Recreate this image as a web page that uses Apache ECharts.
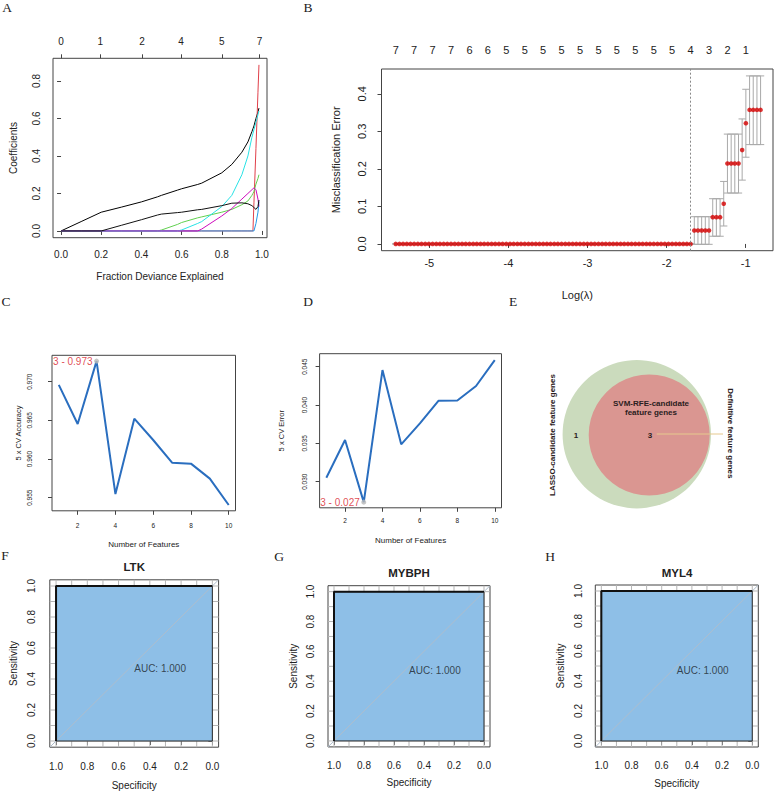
<!DOCTYPE html>
<html><head><meta charset="utf-8">
<script src="https://cdn.jsdelivr.net/npm/echarts@6/dist/echarts.min.js"></script>
<style>html,body{margin:0;padding:0;background:#fff}#c{width:776px;height:791px}</style>
</head><body><div id="c"></div>
<script>
// ---------- Panel A: LASSO coefficient paths vs fraction deviance explained ----------
const devFrac   = [0, 0.1, 0.2, 0.3, 0.4, 0.48, 0.5, 0.58, 0.6, 0.68, 0.7, 0.8, 0.85, 0.9, 0.93, 0.95, 0.955, 0.96, 0.97, 0.98, 0.985];
const coefVar1  = [0, 0.05, 0.1, 0.127, 0.155, 0.182, 0.19, 0.218, 0.225, 0.248, 0.255, 0.31, 0.355, 0.42, 0.475, 0.53, 0.545, 0.56, 0.6, 0.635, 0.655];
const coefVar2  = [0, 0, 0, 0, 0, 0, 0, 0, 0, 0, 0, 0, 0, 0, 0, 0, 0, 0.15, 0.44, 0.74, 0.886];
const coefVar3  = [0, 0, 0, 0, 0, 0, 0.005, 0.035, 0.045, 0.07, 0.075, 0.1, 0.115, 0.14, 0.16, 0.19, 0.2, 0.21, 0.25, 0.28, 0.3];
const coefVar4  = [0, 0, 0, 0, 0, 0, 0, 0, 0, 0, 0, 0, 0, 0, 0, 0, 0, 0, 0.04, 0.1, 0.155];
const coefVar5  = [0, 0, 0, 0, 0, 0, 0, 0, 0.005, 0.04, 0.05, 0.13, 0.19, 0.3, 0.4, 0.5, 0.52, 0.54, 0.58, 0.62, 0.64];
const coefVar6  = [0, 0, 0, 0, 0, 0, 0, 0, 0, 0, 0.01, 0.08, 0.12, 0.17, 0.2, 0.22, 0.225, 0.23, 0.22, 0.17, 0.13];
const coefVar7  = [0, 0, 0, 0.03, 0.06, 0.085, 0.09, 0.098, 0.1, 0.113, 0.115, 0.135, 0.148, 0.15, 0.145, 0.135, 0.13, 0.125, 0.115, 0.13, 0.165];
const dfTopPos    = [0, 0.195, 0.403, 0.597, 0.8, 0.988];
const dfTopLabels = ['0', '1', '2', '4', '5', '7'];

// ---------- Panel B: cross-validated misclassification error ----------
const logLambda = [
 -5.425,-5.378,-5.332,-5.285,-5.239,-5.192,-5.145,-5.099,-5.052,-5.006,
 -4.959,-4.912,-4.866,-4.819,-4.773,-4.726,-4.679,-4.633,-4.586,-4.540,
 -4.493,-4.446,-4.400,-4.353,-4.307,-4.260,-4.213,-4.167,-4.120,-4.074,
 -4.027,-3.980,-3.934,-3.887,-3.841,-3.794,-3.747,-3.701,-3.654,-3.608,
 -3.561,-3.514,-3.468,-3.421,-3.375,-3.328,-3.281,-3.235,-3.188,-3.142,
 -3.095,-3.048,-3.002,-2.955,-2.909,-2.862,-2.815,-2.769,-2.722,-2.676,
 -2.629,-2.582,-2.536,-2.489,-2.443,-2.396,-2.349,-2.303,-2.256,-2.210,
 -2.163,-2.116,-2.070,-2.023,-1.977,-1.930,-1.883,-1.837,-1.790,-1.744,
 -1.697,-1.650,-1.604,-1.557,-1.511,-1.464,-1.417,-1.371,-1.324,-1.278,
 -1.231,-1.184,-1.138,-1.091,-1.045,-0.998,-0.951,-0.905,-0.858,-0.812];
const cvError = [
 0,0,0,0,0,0,0,0,0,0,0,0,0,0,0,0,0,0,0,0,
 0,0,0,0,0,0,0,0,0,0,0,0,0,0,0,0,0,0,0,0,
 0,0,0,0,0,0,0,0,0,0,0,0,0,0,0,0,0,0,0,0,
 0,0,0,0,0,0,0,0,0,0,0,0,0,0,0,0,0,0,0,0,
 0,0.0357,0.0357,0.0357,0.0357,0.0357,0.0714,0.0714,0.0714,0.1071,
 0.2143,0.2143,0.2143,0.2143,0.25,0.3214,0.3571,0.3571,0.3571,0.3571];
const cvUpper = [
 0,0,0,0,0,0,0,0,0,0,0,0,0,0,0,0,0,0,0,0,
 0,0,0,0,0,0,0,0,0,0,0,0,0,0,0,0,0,0,0,0,
 0,0,0,0,0,0,0,0,0,0,0,0,0,0,0,0,0,0,0,0,
 0,0,0,0,0,0,0,0,0,0,0,0,0,0,0,0,0,0,0,0,
 0,0.0726,0.0726,0.0726,0.0726,0.0726,0.1205,0.1205,0.1205,0.1665,
 0.2926,0.2926,0.2926,0.2926,0.333,0.412,0.4476,0.4476,0.4476,0.4476];
const cvLower = [
 0,0,0,0,0,0,0,0,0,0,0,0,0,0,0,0,0,0,0,0,
 0,0,0,0,0,0,0,0,0,0,0,0,0,0,0,0,0,0,0,0,
 0,0,0,0,0,0,0,0,0,0,0,0,0,0,0,0,0,0,0,0,
 0,0,0,0,0,0,0,0,0,0,0,0,0,0,0,0,0,0,0,0,
 0,-0.001,-0.001,-0.001,-0.001,-0.001,0.0205,0.0205,0.0205,0.0478,
 0.1356,0.1356,0.1356,0.1356,0.17,0.231,0.2646,0.2646,0.2646,0.2646];
const nzLabels = [7,7,7,7,6,6,5,5,5,5,5,5,5,5,5,5,4,3,2,1];
const lambdaMinIdx = 80;

// ---------- Panels C / D: SVM-RFE ----------
const nFeatures  = [1, 2, 3, 4, 5, 6, 7, 8, 9, 10];
const cvAccuracy = [0.9696, 0.96453, 0.97267, 0.95547, 0.96522, 0.96246, 0.95953, 0.9594, 0.95746, 0.95405];
const cvErrorRfe = [0.03052, 0.03543, 0.02733, 0.04457, 0.03487, 0.0376, 0.04057, 0.0406, 0.04248, 0.04587];

// ---------- Panel E: Venn ----------
const vennSetNames     = ['LASSO-candidate feature genes', 'SVM-RFE-candidate feature genes'];
const vennRegionCounts = [1, 3];
const vennOverlapName  = 'Definitive feature genes';

// ---------- Panels F-H: ROC ----------
const rocGenes       = ['LTK', 'MYBPH', 'MYL4'];
const rocSpecificity = [1, 1, 0];
const rocSensitivity = [0, 1, 1];
const rocAuc         = [1.000, 1.000, 1.000];
const rocGridVals    = [0, 0.1, 0.2, 0.3, 0.4, 0.5, 0.6, 0.7, 0.8, 0.9, 1.0];

// ================= rendering =================
const FONT = 'Liberation Sans, Arial, sans-serif';
const SERIF = 'Liberation Serif, Times New Roman, serif';
const chart = echarts.init(document.getElementById('c'), null, {renderer: 'svg', width: 776, height: 791});

function fixed(n) { return v => Number(v).toFixed(n); }
function lookup(pos, labels) {
  return v => { let bi = -1, bd = 1e9; pos.forEach((p, i) => { const d = Math.abs(p - v); if (d < bd) { bd = d; bi = i; } }); return bd < 1e-6 ? String(labels[bi]) : ''; };
}
function ax(o) {
  return {
    type: 'value', gridIndex: o.grid, position: o.position, min: o.min, max: o.max, inverse: !!o.inverse,
    axisLine: {show: false}, splitLine: {show: false}, splitArea: {show: false},
    axisTick: {show: o.tickShow !== false, inside: false, length: 4, customValues: o.ticks, lineStyle: {color: '#444', width: 1}},
    axisLabel: {show: true, customValues: o.ticks, formatter: o.fmt, fontSize: o.fs, color: '#222', fontFamily: FONT, margin: o.margin, rotate: o.rotate || 0},
    name: o.name || '', nameLocation: 'middle', nameGap: o.nameGap || 0,
    nameTextStyle: {fontSize: o.nfs || 10, color: '#222', fontFamily: FONT}
  };
}
const gridBase = {show: true, borderColor: '#444', borderWidth: 1, backgroundColor: 'transparent', containLabel: false, outerBoundsMode: 'none'};
const grids = [
  {left: 53, top: 58.3, width: 214, height: 179.4},      // A
  {left: 381.5, top: 69, width: 391.5, height: 181.7},   // B
  {left: 52, top: 355.3, width: 183.5, height: 155.5},   // C
  {left: 319.6, top: 353.7, width: 181.9, height: 154.1},// D
  {left: 49.8, top: 579.8, width: 168.8, height: 167.4}, // F
  {left: 328, top: 585.7, width: 162, height: 161.2},    // G
  {left: 595.3, top: 585, width: 163, height: 162}       // H
].map(g => Object.assign({}, gridBase, g));

const ROC_MIN = -0.04, ROC_MAX = 1.04;
const rocTicks = [0, 0.2, 0.4, 0.6, 0.8, 1.0];
const topNzPos = nzLabels.map((_, k) => logLambda[k * 5]);

const xAxes = [
  ax({grid: 0, min: -0.04, max: 1.025, ticks: [0, 0.2, 0.4, 0.6, 0.8, 1.0], fmt: fixed(1), fs: 10, margin: 12, name: 'Fraction Deviance Explained', nameGap: 34, nfs: 10}),
  ax({grid: 0, position: 'top', min: -0.04, max: 1.025, ticks: dfTopPos, fmt: lookup(dfTopPos, dfTopLabels), fs: 10, margin: 11.5}),
  ax({grid: 1, min: -5.605, max: -0.655, ticks: [-5, -4, -3, -2, -1], fmt: v => String(Math.round(v)), fs: 11, margin: 7, name: 'Log(\u03bb)', nameGap: 39, nfs: 11}),
  ax({grid: 1, position: 'top', min: -5.605, max: -0.655, ticks: topNzPos, tickShow: false, fmt: lookup(topNzPos, nzLabels), fs: 11, margin: 14}),
  ax({grid: 2, min: 0.64, max: 10.36, ticks: [2, 4, 6, 8, 10], fmt: v => String(Math.round(v)), fs: 6.5, margin: 11.5, name: 'Number of Features', nameGap: 30, nfs: 8}),
  ax({grid: 3, min: 0.64, max: 10.36, ticks: [2, 4, 6, 8, 10], fmt: v => String(Math.round(v)), fs: 6.5, margin: 9.3, name: 'Number of Features', nameGap: 29, nfs: 8}),
  ax({grid: 4, min: ROC_MIN, max: ROC_MAX, inverse: true, ticks: rocTicks, fmt: fixed(1), fs: 10, margin: 14.5, name: 'Specificity', nameGap: 32.8, nfs: 10}),
  ax({grid: 5, min: ROC_MIN, max: ROC_MAX, inverse: true, ticks: rocTicks, fmt: fixed(1), fs: 10, margin: 13.5, name: 'Specificity', nameGap: 31, nfs: 10}),
  ax({grid: 6, min: ROC_MIN, max: ROC_MAX, inverse: true, ticks: rocTicks, fmt: fixed(1), fs: 10, margin: 13.5, name: 'Specificity', nameGap: 31, nfs: 10})
];
const yAxes = [
  ax({grid: 0, min: -0.036, max: 0.921, ticks: [0, 0.2, 0.4, 0.6, 0.8], fmt: fixed(1), fs: 10, margin: 12, rotate: 90, name: 'Coefficients', nameGap: 34.5, nfs: 10}),
  ax({grid: 1, min: -0.018, max: 0.466, ticks: [0, 0.1, 0.2, 0.3, 0.4], fmt: fixed(1), fs: 11, margin: 14, rotate: 90, name: 'Misclassification Error', nameGap: 40, nfs: 11}),
  ax({grid: 2, min: 0.9533, max: 0.97342, ticks: [0.955, 0.96, 0.965, 0.97], fmt: fixed(3), fs: 6.5, margin: 19, rotate: 90, name: '5 x CV Accuracy', nameGap: 29.7, nfs: 7.5}),
  ax({grid: 3, min: 0.02659, max: 0.0467, ticks: [0.03, 0.035, 0.04, 0.045], fmt: fixed(3), fs: 6.5, margin: 11.3, rotate: 90, name: '5 x CV Error', nameGap: 34, nfs: 7.5}),
  ax({grid: 4, min: ROC_MIN, max: ROC_MAX, ticks: rocTicks, fmt: fixed(1), fs: 10, margin: 13, rotate: 90, name: 'Sensitivity', nameGap: 31.5, nfs: 10}),
  ax({grid: 5, min: ROC_MIN, max: ROC_MAX, ticks: rocTicks, fmt: fixed(1), fs: 10, margin: 13, rotate: 90, name: 'Sensitivity', nameGap: 29.7, nfs: 10}),
  ax({grid: 6, min: ROC_MIN, max: ROC_MAX, ticks: rocTicks, fmt: fixed(1), fs: 10, margin: 12.3, rotate: 90, name: 'Sensitivity', nameGap: 29.6, nfs: 10})
];

const series = [];
// A paths
const coefPaths = [coefVar1, coefVar2, coefVar3, coefVar4, coefVar5, coefVar6, coefVar7];
const pathColors = ['#000000', '#e0404a', '#61D04F', '#2297E6', '#28E2E5', '#CD0BBC', '#111111'];
coefPaths.forEach((c, k) => series.push({
  type: 'line', xAxisIndex: 0, yAxisIndex: 0, showSymbol: false, symbol: 'none', smooth: false,
  data: devFrac.map((d, i) => [d, c[i]]), lineStyle: {color: pathColors[k], width: 1}, z: 2 + k
}));

// B error bars
const capHalf = 0.046;
series.push({
  type: 'custom', xAxisIndex: 2, yAxisIndex: 1, z: 2,
  data: logLambda.map((x, i) => [x, cvLower[i], cvUpper[i]]),
  encode: {x: 0, y: [1, 2]},
  renderItem: function (params, api) {
    const x = api.value(0), lo = api.value(1), up = api.value(2);
    const a = api.coord([x, up]), b = api.coord([x, lo]);
    const hw = api.size([capHalf, 0])[0];
    const st = {stroke: '#a9a9a9', lineWidth: 1};
    return {type: 'group', children: [
      {type: 'line', shape: {x1: a[0], y1: a[1], x2: b[0], y2: b[1]}, style: st},
      {type: 'line', shape: {x1: a[0] - hw, y1: a[1], x2: a[0] + hw, y2: a[1]}, style: st},
      {type: 'line', shape: {x1: b[0] - hw, y1: b[1], x2: b[0] + hw, y2: b[1]}, style: st}
    ]};
  }
});
series.push({
  type: 'scatter', xAxisIndex: 2, yAxisIndex: 1, z: 3, symbol: 'circle', symbolSize: 4.6,
  data: logLambda.map((x, i) => [x, cvError[i]]), itemStyle: {color: '#d40000'},
  markLine: {silent: true, symbol: 'none', label: {show: false}, lineStyle: {type: [2, 2], color: '#888', width: 1},
    data: [{xAxis: logLambda[lambdaMinIdx]}]}
});

// C / D
function rfePanel(xi, yi, vals, best, labelColor) {
  series.push({type: 'line', xAxisIndex: xi, yAxisIndex: yi, showSymbol: false, symbol: 'none',
    data: nFeatures.map((n, i) => [n, vals[i]]), lineStyle: {color: '#2a6ebf', width: 2}, z: 2});
  series.push({type: 'scatter', xAxisIndex: xi, yAxisIndex: yi, symbolSize: 5, z: 3,
    itemStyle: {color: '#b8b8b8'},
    data: [[nFeatures[best], vals[best]]],
    label: {show: true, position: 'left', distance: 1.5, color: labelColor, fontSize: 10, fontFamily: FONT,
      formatter: p => p.value[0] + ' - ' + p.value[1].toFixed(3)}});
}
const bestAcc = cvAccuracy.indexOf(Math.max(...cvAccuracy));
const bestErr = cvErrorRfe.indexOf(Math.min(...cvErrorRfe));
rfePanel(4, 2, cvAccuracy, bestAcc, '#d8202a');
rfePanel(5, 3, cvErrorRfe, bestErr, '#d8202a');

// E Venn
series.push({
  type: 'custom', coordinateSystem: 'none', z: 2,
  data: vennRegionCounts.map((c, i) => [i, c]),
  renderItem: function (params, api) {
    const i = params.dataIndex, c = api.value(1);
    const tf = {fontSize: 8, fontWeight: 'bold', fontFamily: FONT, fill: '#2a2020', align: 'center', verticalAlign: 'middle'};
    if (i === 0) {
      return {type: 'group', children: [
        {type: 'circle', shape: {cx: 636.8, cy: 434.2, r: 74.2}, style: {fill: '#cbdbbd'}},
        {type: 'text', style: Object.assign({text: String(c), x: 576, y: 435}, tf)}
      ]};
    }
    return {type: 'group', children: [
      {type: 'circle', shape: {cx: 649.2, cy: 435, r: 60.5}, style: {fill: '#da9691'}},
      {type: 'line', shape: {x1: 656.7, y1: 434, x2: 723, y2: 434}, style: {stroke: '#e6c98e', lineWidth: 1}},
      {type: 'text', style: Object.assign({text: String(c), x: 650, y: 435}, tf)}
    ]};
  }
});

// F-H ROC
rocGenes.forEach((g, k) => {
  const xi = 6 + k, yi = 4 + k;
  series.push({type: 'custom', xAxisIndex: xi, yAxisIndex: yi, z: 1, data: rocGridVals.map(v => [v, v]), encode: {x: 0, y: 1},
    renderItem: function (params, api) {
      const v = api.value(0);
      const a = api.coord([v, ROC_MIN]), b = api.coord([v, ROC_MAX]);
      const c = api.coord([ROC_MAX, v]), d = api.coord([ROC_MIN, v]);
      const st = {stroke: '#b5b5b5', lineWidth: 1};
      return {type: 'group', children: [
        {type: 'line', shape: {x1: a[0], y1: a[1], x2: b[0], y2: b[1]}, style: st},
        {type: 'line', shape: {x1: c[0], y1: c[1], x2: d[0], y2: d[1]}, style: st}
      ]};
    }});
  series.push({type: 'custom', xAxisIndex: xi, yAxisIndex: yi, z: 2,
    data: rocSpecificity.map((s, i) => [s, rocSensitivity[i]]), encode: {x: 0, y: 1},
    renderItem: function (params, api) {
      if (params.dataIndex !== 0) return null;
      const pts = rocSpecificity.map((s, i) => api.coord([s, rocSensitivity[i]]));
      pts.push(api.coord([rocSpecificity[rocSpecificity.length - 1], 0]));
      return {type: 'polygon', shape: {points: pts}, style: {fill: '#8ebfe7', stroke: '#2b2b2b', lineWidth: 1}};
    }});
  series.push({type: 'line', xAxisIndex: xi, yAxisIndex: yi, z: 3, showSymbol: false, symbol: 'none',
    data: [[ROC_MAX, 1 - ROC_MAX], [ROC_MIN, 1 - ROC_MIN]], lineStyle: {color: '#aebdcc', width: 1}});
  series.push({type: 'line', xAxisIndex: xi, yAxisIndex: yi, z: 4, showSymbol: false, symbol: 'none',
    data: rocSpecificity.map((s, i) => [s, rocSensitivity[i]]), lineStyle: {color: '#111', width: 2}});
  series.push({type: 'scatter', xAxisIndex: xi, yAxisIndex: yi, z: 5, symbolSize: 0.1, itemStyle: {color: 'transparent'},
    data: [[0.5, 0.5]],
    label: {show: true, position: 'right', distance: 0, offset: [0, 4.5], color: '#1b1f2a', fontSize: 10, fontFamily: FONT,
      formatter: () => 'AUC: ' + rocAuc[k].toFixed(3)}});
});

// free texts: panel letters, ROC titles, Venn set names
function txt(text, x, y, o) {
  return Object.assign({type: 'text', x: x, y: y, rotation: (o && o.rot) || 0, z: 100,
    style: {text: text, fill: (o && o.color) || '#222', fontSize: (o && o.fs) || 13, fontFamily: (o && o.family) || FONT,
      fontWeight: (o && o.bold) ? 'bold' : 'normal', align: 'center', verticalAlign: 'middle'}});
}
const letter = {family: SERIF, fs: 13.5};
const graphic = [
  txt('A', 7, 7, letter), txt('B', 308, 7, letter), txt('C', 6, 301, letter), txt('D', 308, 301, letter),
  txt('E', 513, 301, letter), txt('F', 5, 555, letter), txt('G', 279, 556, letter), txt('H', 550, 556, letter),
  txt(rocGenes[0], 134.2, 567, {bold: true, fs: 11.5}),
  txt(rocGenes[1], 409, 573, {bold: true, fs: 11.5}),
  txt(rocGenes[2], 677, 573, {bold: true, fs: 11.5}),
  txt('SVM-RFE-candidate', 651, 403.3, {bold: true, fs: 8, color: '#2a2020'}),
  txt('feature genes', 651, 412.3, {bold: true, fs: 8, color: '#2a2020'}),
  txt(vennSetNames[0], 552.3, 435, {bold: true, fs: 8, color: '#2a2020', rot: Math.PI / 2}),
  txt(vennOverlapName, 730.7, 433.3, {bold: true, fs: 8, color: '#2a2020', rot: -Math.PI / 2})
];

chart.setOption({
  animation: false,
  backgroundColor: '#ffffff',
  textStyle: {fontFamily: FONT},
  grid: grids, xAxis: xAxes, yAxis: yAxes, series: series, graphic: graphic
});
</script></body></html>
